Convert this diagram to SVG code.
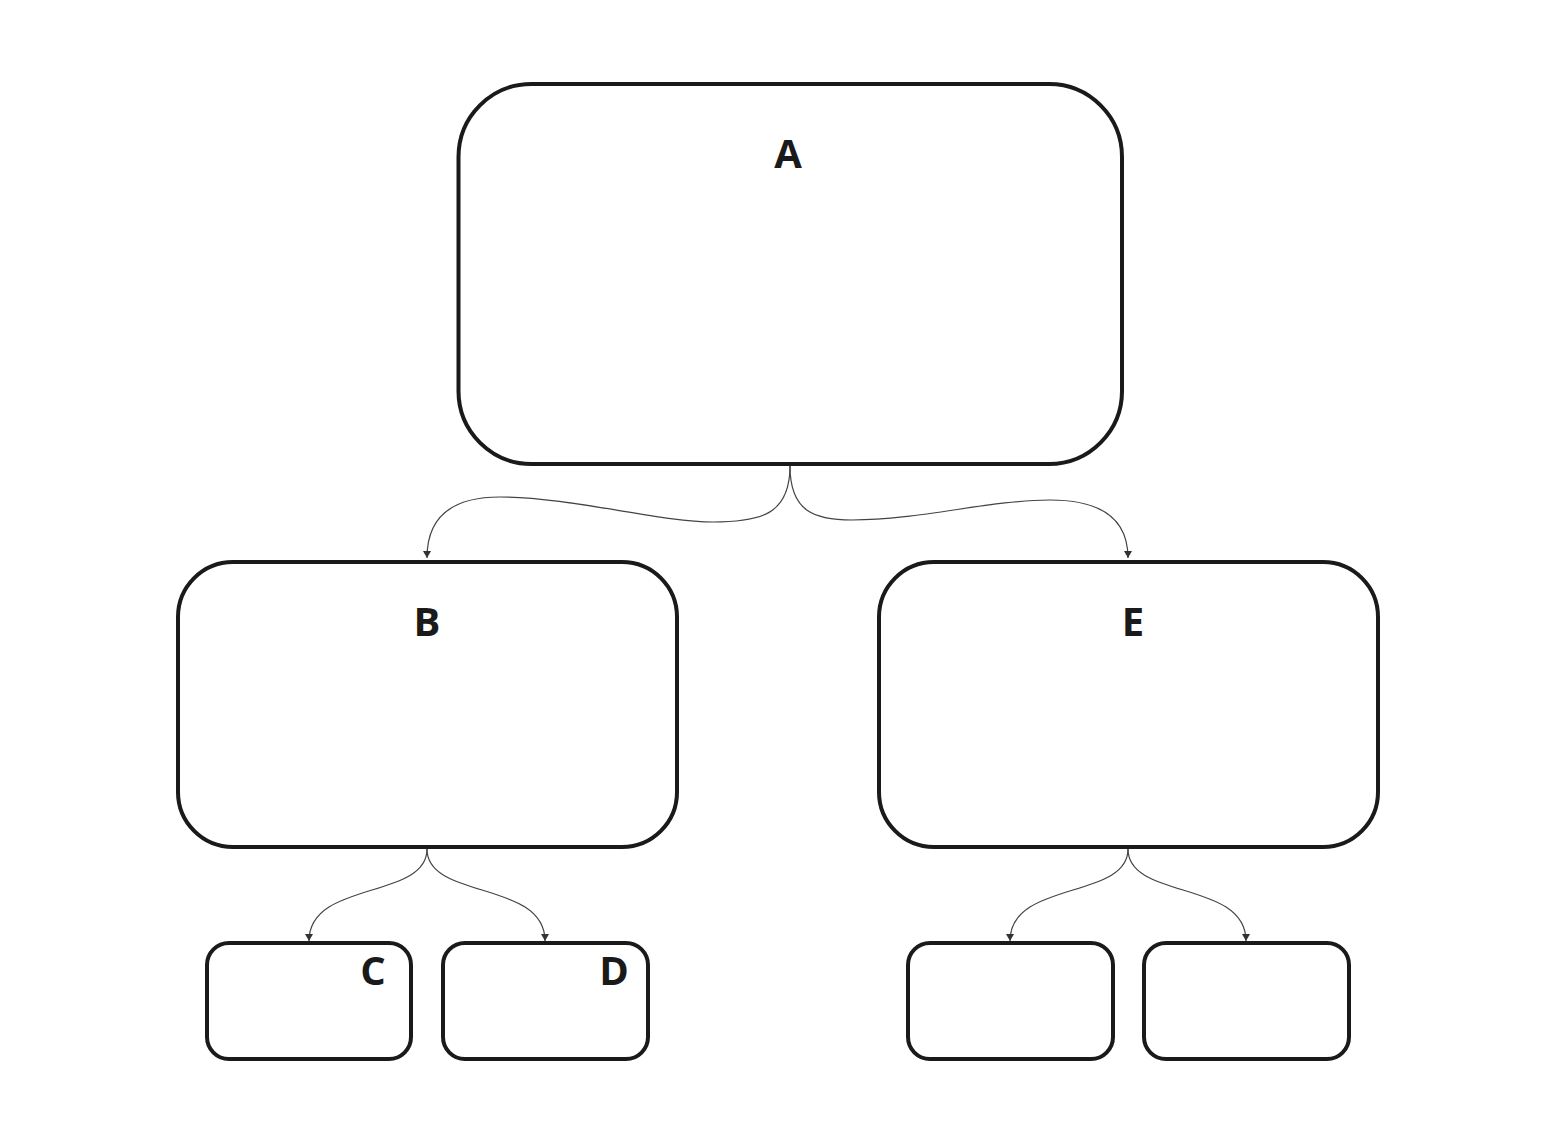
<svg xmlns="http://www.w3.org/2000/svg" width="1566" height="1146" viewBox="0 0 1566 1146">
<defs>
<style>
.node{fill:#ffffff;stroke:#1a1a1a;stroke-width:4}
.lbl{font-family:"Open Sans","Liberation Sans",sans-serif;font-weight:700;font-size:40px;fill:#1a1a1a;text-anchor:middle}
.conn{fill:none;stroke:#444444;stroke-width:1.2}
</style>
<marker id="arr" viewBox="0 0 7 8" refX="7" refY="4" markerWidth="7" markerHeight="8" markerUnits="userSpaceOnUse" orient="auto">
<path d="M0,0 L7,4 L0,8 Z" fill="#333333"/>
</marker>
</defs>
<rect width="1566" height="1146" fill="#ffffff"/>
<g id="node-A">
<rect class="node" x="458.5" y="84" width="663.5" height="380" rx="73" ry="73"/>
<text class="lbl" x="788" y="168">A</text>
</g>
<g id="node-B">
<rect class="node" x="178" y="562" width="499" height="285" rx="55" ry="55"/>
<text class="lbl" x="427" y="636">B</text>
</g>
<g id="node-E">
<rect class="node" x="879" y="562" width="499" height="285" rx="55" ry="55"/>
<text class="lbl" x="1133" y="636">E</text>
</g>
<g id="node-C">
<rect class="node" x="207" y="943" width="204" height="116" rx="22" ry="22"/>
<text class="lbl" x="373" y="985">C</text>
</g>
<g id="node-D">
<rect class="node" x="443" y="943" width="205" height="116" rx="22" ry="22"/>
<text class="lbl" x="614" y="985">D</text>
</g>
<g id="node-F">
<rect class="node" x="908" y="943" width="205" height="116" rx="22" ry="22"/>
</g>
<g id="node-G">
<rect class="node" x="1144" y="943" width="205" height="116" rx="22" ry="22"/>
</g>
<g id="connectors">
<path class="conn" d="M790,466 C790,515 760,522 713,522 C660,522 570,497 500,497 C455,497 427,515 427,558" marker-end="url(#arr)"/>
<path class="conn" d="M790,466 C790,512 815,520 852,520 C920,520 990,500 1050,500 C1100,500 1128,518 1128,558" marker-end="url(#arr)"/>
<path class="conn" d="M427,849 C427,900 309,880 309,941" marker-end="url(#arr)"/>
<path class="conn" d="M427,849 C427,900 545,880 545,941" marker-end="url(#arr)"/>
<path class="conn" d="M1128,849 C1128,900 1010,880 1010,941" marker-end="url(#arr)"/>
<path class="conn" d="M1128,849 C1128,900 1246,880 1246,941" marker-end="url(#arr)"/>
</g>
</svg>
